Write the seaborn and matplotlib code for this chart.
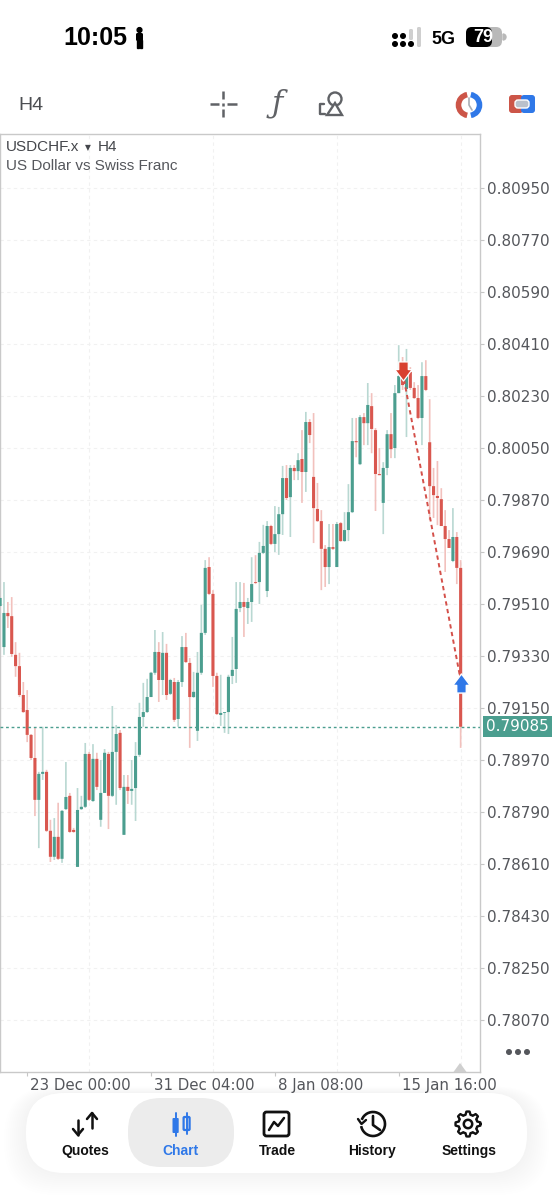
import numpy as np
import pandas as pd
import matplotlib
matplotlib.use("Agg")
import matplotlib.pyplot as plt
import seaborn as sns
from matplotlib.patches import Circle, FancyBboxPatch, Polygon, Rectangle, Wedge, Arc
from matplotlib.path import Path
from matplotlib.transforms import ScaledTranslation

# ── candle data, in points (1e-5) ──
opens = [79503, 79361, 79479, 79468, 79334, 79295, 79195, 79143, 79057, 78977,
         78832, 78922, 78929, 78725, 78635, 78704, 78628, 78800, 78846, 78728,
         78600, 78800, 78808, 78991, 78828, 78974, 78763, 78856, 78991, 78846,
         78998, 79064, 78711, 78877, 78863, 78873, 78988, 79119, 79136, 79188,
         79272, 79344, 79247, 79341, 79199, 79240, 79112, 79240, 79361, 79306,
         79188, 79071, 79272, 79410, 79638, 79545, 79261, 79126, 79133, 79136,
         79261, 79285, 79496, 79517, 79496, 79517, 79586, 79586, 79687, 79555,
         79780, 79718, 79752, 79821, 79946, 79880, 79981, 79970, 80012, 79967,
         80140, 79950, 79839, 79797, 79701, 79638, 79707, 79638, 79790, 79728,
         79766, 79828, 80074, 79994, 80157, 80136, 80195, 80112, 79960, 79860,
         79981, 80098, 80050, 80240, 80292, 80254, 80313, 80258, 80223, 80154,
         80299, 80070, 79918, 79884, 79873, 79780, 79735, 79659, 79742, 79635]
highs = [79538, 79586, 79517, 79534, 79378, 79341, 79240, 79212, 79060, 79081,
         78929, 79085, 78936, 78763, 78769, 78822, 78797, 78963, 78856, 78735,
         78873, 78846, 79029, 78998, 79025, 78995, 78970, 79008, 78998, 79157,
         79091, 79074, 78918, 78918, 78970, 79032, 79168, 79237, 79251, 79275,
         79420, 79378, 79413, 79372, 79251, 79254, 79247, 79399, 79410, 79323,
         79275, 79344, 79507, 79662, 79672, 79558, 79272, 79265, 79136, 79265,
         79396, 79586, 79586, 79583, 79531, 79672, 79679, 79725, 79784, 79797,
         79784, 79849, 79846, 79988, 79991, 79991, 79991, 80032, 80112, 80175,
         80150, 80171, 79929, 79835, 79714, 79787, 79787, 79794, 79794, 79828,
         79925, 80154, 80154, 80164, 80171, 80275, 80240, 80119, 80050, 80001,
         80112, 80171, 80268, 80406, 80365, 80393, 80330, 80278, 80268, 80347,
         80354, 80219, 79981, 80005, 79911, 79835, 79766, 79842, 79759, 79662]
lows = [79496, 79334, 79427, 79327, 79258, 79188, 79133, 79032, 78970, 78776,
        78665, 78901, 78721, 78617, 78624, 78624, 78614, 78797, 78718, 78718,
        78600, 78797, 78804, 78828, 78825, 78866, 78739, 78856, 78731, 78842,
        78815, 78866, 78711, 78818, 78815, 78759, 78981, 79085, 79133, 79188,
        79265, 79171, 79195, 79178, 79195, 79102, 79085, 79223, 79306, 79012,
        79185, 79036, 79265, 79403, 79541, 79223, 79126, 79088, 79064, 79060,
        79233, 79237, 79482, 79396, 79441, 79448, 79579, 79510, 79683, 79534,
        79714, 79690, 79680, 79749, 79870, 79742, 79939, 79939, 79860, 79898,
        80067, 79721, 79794, 79558, 79569, 79579, 79697, 79638, 79725, 79725,
        79728, 79825, 80018, 79991, 80060, 80060, 80032, 79832, 79956, 79752,
        79956, 80015, 80015, 80240, 80251, 80088, 80251, 80220, 80150, 80060,
        80247, 79801, 79808, 79783, 79780, 79621, 79704, 79655, 79579, 79012]
closes = [79531, 79479, 79468, 79337, 79295, 79195, 79136, 79057, 78977, 78832,
          78922, 78929, 78725, 78635, 78704, 78628, 78794, 78842, 78721, 78721,
          78797, 78808, 78991, 78832, 78974, 78877, 78856, 78995, 78846, 78998,
          79060, 78873, 78877, 78863, 78870, 78984, 79119, 79136, 79188, 79272,
          79344, 79247, 79341, 79195, 79247, 79109, 79240, 79361, 79309, 79188,
          79206, 79272, 79410, 79635, 79545, 79261, 79129, 79133, 79136, 79258,
          79282, 79493, 79517, 79500, 79517, 79579, 79583, 79687, 79711, 79780,
          79718, 79752, 79821, 79946, 79877, 79981, 79970, 80008, 79967, 80140,
          80095, 79842, 79797, 79701, 79638, 79707, 79701, 79787, 79728, 79766,
          79828, 80074, 80070, 80157, 80136, 80199, 80116, 79960, 79956, 79981,
          80098, 80046, 80240, 80299, 80268, 80299, 80258, 80223, 80154, 80299,
          80251, 79918, 79887, 79877, 79780, 79735, 79704, 79742, 79635, 79085]

y_ticks = [80950, 80770, 80590, 80410, 80230, 80050, 79870, 79690, 79510,
           79330, 79150, 78970, 78790, 78610, 78430, 78250, 78070]
x_labels = ["23 Dec 00:00", "31 Dec 04:00", "8 Jan 08:00", "15 Jan 16:00"]
x_label_bars = [7, 39, 71, 103]
x_grid_bars = [7, 23, 39, 55, 71, 87, 103, 119]
trade_bars = [104, 119]
trade_prices = [80313, 79247]
last_price = 79085

TEAL = "#4b9e8f"
RED = "#d9574f"
TEAL_WICK = "#b9d8d2"
RED_WICK = "#f2c1bd"
BLUE = "#2f78e8"
GREY = "#55575c"
UI_FONT = "Liberation Sans"

df = pd.DataFrame({"bar": np.arange(len(opens)), "open": opens, "high": highs,
                   "low": lows, "close": closes}) / 1e5
df["bar"] = np.arange(len(opens))
df["up"] = df["close"] >= df["open"]
df["body"] = (df["close"] - df["open"]).abs()
df["base"] = df[["open", "close"]].min(axis=1)

sns.set_style("white")
plt.rcParams["font.family"] = ["DejaVu Sans"]

W, H = 554, 1200
fig = plt.figure(figsize=(W / 100, H / 100), dpi=100, facecolor="white")

# ── main chart axes, frame is x 0-480, y 134-1072 px ─────────
ax = fig.add_axes([0, 1 - 1072 / H, 480 / W, (1072 - 134) / H], zorder=2)

for up, wick_color, body_color in [(True, TEAL_WICK, TEAL), (False, RED_WICK, RED)]:
    part = df[df["up"] == up]
    ax.vlines(part["bar"], part["low"], part["high"], color=wick_color, lw=1.2, zorder=2, snap=False)
    sns.barplot(data=part, x="bar", y="body", bottom=part["base"].values, native_scale=True,
                color=body_color, saturation=1, width=0.8, errorbar=None,
                linewidth=0, ax=ax, zorder=3, snap=False)

ax.axhline(last_price / 1e5, color=TEAL, lw=1, ls=(0, (2, 2)), zorder=4)

# closed trade: dashed line and the two arrows
trade = pd.DataFrame({"bar": trade_bars, "price": np.array(trade_prices) / 1e5})
sns.lineplot(data=trade, x="bar", y="price", color="#d4504a", lw=1.4, estimator=None,
             linestyle=(0, (2.2, 1.8)), ax=ax, zorder=5)
down_arrow = Path([(-.45, .1), (-.25, .1), (-.25, .5), (.25, .5), (.25, .1), (.45, .1), (0, -.5), (-.45, .1)], closed=True)
up_arrow = Path([(-.45, -.1), (-.25, -.1), (-.25, -.5), (.25, -.5), (.25, -.1), (.45, -.1), (0, .5), (-.45, -.1)], closed=True)
sns.scatterplot(x=trade_bars[:1], y=[trade_prices[0] / 1e5 + 0.00003], marker=down_arrow, s=190, color="#d8402f",
                edgecolor="white", linewidth=0.9, ax=ax, zorder=6)
sns.scatterplot(x=trade_bars[1:], y=[trade_prices[1] / 1e5 - 0.00010], marker=up_arrow, s=190, color=BLUE,
                edgecolor="white", linewidth=1.0, ax=ax, zorder=6)

ax.set_xlim(-0.026, 124.0)
ax.set_ylim(0.77890, 0.81137)
ax.set_xlabel("")
ax.set_ylabel("")

ax.yaxis.tick_right()
ax.set_yticks(np.array(y_ticks) / 1e5, [f"{v / 1e5:.5f}" for v in y_ticks])
ax.set_xticks(x_grid_bars, minor=True)
ax.set_xticks(x_label_bars, x_labels)
ax.tick_params(axis="y", length=3, width=0.8, color="#c6c6c6", labelsize=11, labelcolor=GREY, pad=2, right=True)
ax.tick_params(axis="x", which="major", length=3, width=0.8, color="#c6c6c6", labelsize=10.8, labelcolor=GREY, pad=1, bottom=True)
ax.tick_params(axis="x", which="minor", length=0)
for lab in ax.get_xticklabels():
    lab.set_ha("left")
    lab.set_transform(lab.get_transform() + ScaledTranslation(3 / 100, 0, fig.dpi_scale_trans))

ax.grid(True, axis="y", color="#f1f1f1", lw=0.8, ls=(0, (3, 3)))
ax.grid(True, axis="x", which="minor", color="#f1f1f1", lw=0.8, ls=(0, (3, 3)))
ax.grid(False, axis="x", which="major")
ax.set_axisbelow(True)
for spine in ax.spines.values():
    spine.set_visible(True)
    spine.set_color("#c9c9c9")
    spine.set_linewidth(1)

# last price tag on the axis
ax.annotate(f"{last_price / 1e5:.5f}", xy=(1, last_price / 1e5), xycoords=ax.get_yaxis_transform(),
            xytext=(6, 0), textcoords="offset pixels", ha="left", va="center", color="white", fontsize=11,
            bbox=dict(boxstyle="square,pad=0.2", fc=TEAL, ec="none"), annotation_clip=False, zorder=10)

# ── phone UI around the chart, drawn in pixel coordinates ────
ui = fig.add_axes([0, 0, 1, 1], zorder=3)
ui.set_xlim(0, W)
ui.set_ylim(H, 0)
ui.axis("off")
ui.patch.set_alpha(0)


def label(x, y, s, size, color="black", weight="normal", ha="center", family=UI_FONT, **kw):
    ui.text(x, y, s, fontsize=size, color=color, fontweight=weight, ha=ha, va="center", family=family, **kw)


def rbox(x0, y0, x1, y1, r, **kw):
    ui.add_patch(FancyBboxPatch((x0 + r, y0 + r), x1 - x0 - 2 * r, y1 - y0 - 2 * r,
                                boxstyle=f"round,pad={r},rounding_size={r}", **kw))


# chart titles
label(6, 147, "USDCHF.x", 11, "#44464b", ha="left")
label(88, 148, "▼", 5.5, "#44464b", family="DejaVu Sans")
label(98, 147, "H4", 11, "#44464b", ha="left")
label(6, 166, "US Dollar vs Swiss Franc", 11, "#55575c", ha="left")

# status bar
label(63, 38, "10:05", 18, weight="bold", ha="left")
ui.add_patch(Circle((139.5, 30), 2.4, color="black"))
rbox(136, 33, 143, 41, 1.5, fc="black", ec="none")
ui.add_patch(Rectangle((137.2, 40), 1.7, 8, color="black"))
ui.add_patch(Rectangle((140.2, 40), 1.7, 8, color="black"))
for cx, cy in [(395, 36), (395, 44), (403, 36), (403, 44), (411, 44)]:
    ui.add_patch(Circle((cx, cy), 2.3, color="black"))
rbox(409, 29, 413, 40, 1.5, fc="#cfcfcf", ec="none")
rbox(417, 27, 421, 47, 1.5, fc="#cfcfcf", ec="none")
label(443, 39, "5G", 13, weight="bold")
rbox(466, 27, 502, 47, 6, fc="#b9b9b9", ec="none")
rbox(466, 27, 492, 47, 6, fc="black", ec="none")
ui.add_patch(Wedge((503, 37), 3, -90, 90, color="#b9b9b9"))
label(483, 37.5, "79", 13, "white", weight="bold")

# toolbar
label(18, 105, "H4", 14, "#4c4e52", ha="left")
for xs, ys in [((210, 219), (104, 104)), ((227, 237), (104, 104)), ((223, 223), (91, 99)),
               ((223, 223), (109, 117)), ((223, 223), (102.5, 105.5))]:
    ui.plot(xs, ys, color="#606266", lw=1.8, solid_capstyle="butt")
label(277, 104, "ƒ", 22, "#606266", family="DejaVu Serif", style="italic")
ui.add_patch(Circle((335, 99), 6.5, fc="none", ec="#606266", lw=1.7))
ui.add_patch(Polygon([(335, 103), (327, 115), (342, 115)], closed=True, fc="white", ec="#606266", lw=1.7))
ui.plot([324, 320, 320, 325], [104, 104, 114, 114], color="#606266", lw=1.7)
ui.add_patch(Arc((469, 105), 21, 21, theta1=100, theta2=260, color="#cc5548", lw=4))
ui.add_patch(Arc((469, 105), 21, 21, theta1=-80, theta2=80, color="#2f78e8", lw=4))
ui.plot([469, 469, 472], [98, 105, 110], color="#a9aeb5", lw=1.2)
rbox(509, 95, 523, 113, 3, fc="#cc5548", ec="none")
rbox(521, 95, 535, 113, 3, fc=BLUE, ec="none")
rbox(515, 100, 529, 108, 3, fc="#b9c0cb", ec="white", lw=1)

# "more" dots and the time marker at the axis
for cx in [509, 518, 527]:
    ui.add_patch(Circle((cx, 1052), 2.3, color=GREY))
ui.add_patch(Polygon([(453.5, 1072), (460, 1063), (466.5, 1072)], closed=True, fc="#cfcfcf", ec="none"))

# nav bar with soft shadow
for grow in range(22, 0, -2):
    rbox(26 - grow, 1093 - grow * 0.3, 527 + grow, 1173 + grow, 40 + grow * 0.5, fc="black", ec="none", alpha=0.0035)
rbox(26, 1093, 527, 1173, 38, fc="white", ec="none")
rbox(128, 1098, 234, 1167, 33, fc="#ececec", ec="none")

nav_labels = ["Quotes", "Chart", "Trade", "History", "Settings"]
nav_x = [85.5, 180.6, 277, 372, 469]
for name, x in zip(nav_labels, nav_x):
    label(x, 1151, name, 10, BLUE if name == "Chart" else "#111111", weight="bold")

# quotes icon
ui.plot([78, 78], [1120, 1135], color="#111111", lw=1.8)
ui.plot([73, 78, 83], [1129, 1135, 1129], color="#111111", lw=1.8)
ui.plot([92, 92], [1113, 1128], color="#111111", lw=1.8)
ui.plot([87, 92, 97], [1119, 1113, 1119], color="#111111", lw=1.8)
# chart icon
ui.plot([175.6, 175.6], [1113, 1136], color=BLUE, lw=1.4)
rbox(172.5, 1118, 178.7, 1133, 1, fc=BLUE, ec="none")
ui.plot([186.6, 186.6], [1113, 1134], color=BLUE, lw=1.4)
rbox(183.6, 1117, 189.6, 1130, 1, fc="#ececec", ec=BLUE, lw=1.6)
# trade icon
rbox(264, 1112, 289, 1136, 2.5, fc="white", ec="#111111", lw=2)
ui.plot([269, 274, 278, 284], [1130, 1122, 1126, 1118], color="#111111", lw=1.8)
# history icon
ui.add_patch(Arc((373, 1124), 24, 24, theta1=-160, theta2=170, color="#111111", lw=1.9))
ui.plot([373, 373, 380], [1116, 1125, 1130], color="#111111", lw=1.9)
ui.plot([358, 361.5, 366], [1119, 1124, 1120], color="#111111", lw=1.7)
# settings icon
angles = np.linspace(0, 2 * np.pi, 49)
radii = np.where(np.cos(8 * angles) > 0, 12.5, 9.5)
ui.plot(468 + radii * np.cos(angles), 1124 + radii * np.sin(angles), color="#111111", lw=1.7)
ui.add_patch(Circle((468, 1124), 4.2, fc="white", ec="#111111", lw=1.8))

fig.savefig("out.png", dpi=100, facecolor="white")
